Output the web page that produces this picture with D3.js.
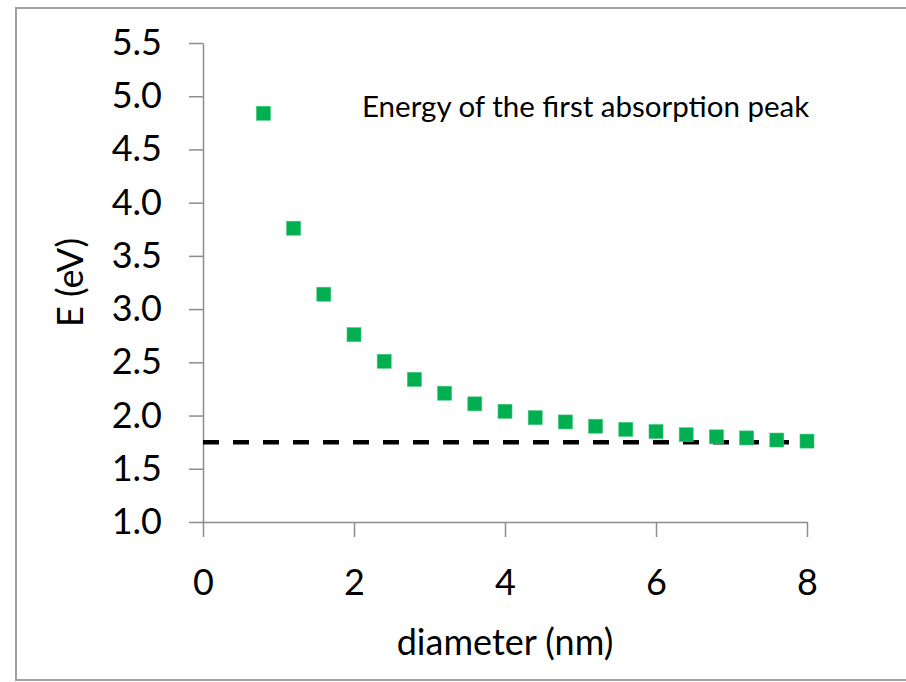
<!DOCTYPE html>
<html>
<head>
<meta charset="utf-8">
<script src="https://cdn.jsdelivr.net/npm/d3@7"></script>
<style>
  body { margin: 0; background: #fff; }
  text { font-family: Lato, "Open Sans", sans-serif; fill: #000; }
</style>
</head>
<body>
<div id="chart"></div>
<script>
// diameter (nm) and energy of first absorption peak (eV)
const diameters = [0.8, 1.2, 1.6, 2.0, 2.4, 2.8, 3.2, 3.6, 4.0, 4.4, 4.8, 5.2, 5.6, 6.0, 6.4, 6.8, 7.2, 7.6, 8.0];
const energies = [4.84, 3.76, 3.14, 2.76, 2.51, 2.34, 2.21, 2.11, 2.04, 1.98, 1.94, 1.90, 1.87, 1.85, 1.82, 1.80, 1.79, 1.77, 1.76];
const bulkGap = 1.75; // dashed asymptote
const bulkRange = [0, 8];
const xTicks = [0, 2, 4, 6, 8];
const yTicks = [1.0, 1.5, 2.0, 2.5, 3.0, 3.5, 4.0, 4.5, 5.0, 5.5];

const width = 906, height = 682;
const margin = ({ top: 43, right: 96, bottom: 160, left: 203 });

const data = diameters.map((d, i) => ({ d: d, e: energies[i] }));

let svg = d3.select("#chart")
    .append("svg")
    .attr("width", width)
    .attr("height", height);

// outer frame
svg.append("rect")
    .attr("x", 16).attr("y", 8)
    .attr("width", 920).attr("height", 672)
    .attr("fill", "none")
    .attr("stroke", "#a0a0a0")
    .attr("stroke-width", 2);

let x = d3.scaleLinear()
    .domain([0, 8])
    .range([margin.left, width - margin.right - 3]);

let y = d3.scaleLinear()
    .domain([1, 5.5])
    .range([height - margin.bottom, margin.top]);

let xAxis = svg.append("g")
    .attr("transform", `translate(0,${y(1)})`)
    .call(d3.axisBottom(x).tickValues(xTicks).tickFormat(d3.format("d")).tickSize(15).tickSizeOuter(0).tickPadding(32));

let yAxis = svg.append("g")
    .attr("transform", `translate(${x(0)},0)`)
    .call(d3.axisLeft(y).tickValues(yTicks).tickFormat(d3.format(".1f")).tickSize(14).tickSizeOuter(0).tickPadding(27));

for (let g of [xAxis, yAxis]) {
    g.select(".domain").attr("stroke", "#8c8c8c").attr("stroke-width", 1.5);
    g.selectAll(".tick line").attr("stroke", "#8c8c8c").attr("stroke-width", 1.5);
    g.selectAll(".tick text").attr("font-size", 36).attr("fill", "#000");
}

// dashed reference line
let line = d3.line()
    .x(d => x(d))
    .y(() => y(bulkGap));

svg.append("path")
    .datum(bulkRange)
    .attr("d", line)
    .attr("fill", "none")
    .attr("stroke", "#000")
    .attr("stroke-width", 4.5)
    .attr("stroke-dasharray", "16 14");

// square markers
svg.selectAll(".pt")
    .data(data)
    .join("rect")
    .attr("class", "pt")
    .attr("x", d => x(d.d) - 7)
    .attr("y", d => y(d.e) - 7)
    .attr("width", 14)
    .attr("height", 14)
    .attr("fill", "#00b050")
    .attr("stroke", "#3fc77a")
    .attr("stroke-width", 0.6);

// annotation
svg.append("text")
    .attr("x", 362)
    .attr("y", 117)
    .attr("font-size", 29.5)
    .text("Energy of the first absorption peak");

// axis titles
svg.append("text")
    .attr("x", x(4))
    .attr("y", 655)
    .attr("text-anchor", "middle")
    .attr("font-size", 36)
    .text("diameter (nm)");

svg.append("text")
    .attr("transform", `translate(83,${(y(1) + y(5.5)) / 2}) rotate(-90)`)
    .attr("text-anchor", "middle")
    .attr("font-size", 36)
    .text("E (eV)");
</script>
</body>
</html>
